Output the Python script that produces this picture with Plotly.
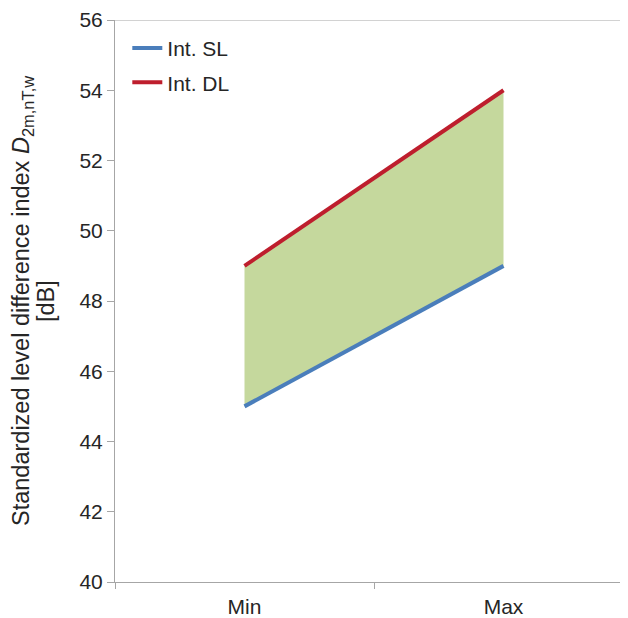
import plotly.graph_objects as go

categories = ["Min", "Max"]
int_sl = [45, 49]
int_dl = [49, 54]
y_ticks = [40, 42, 44, 46, 48, 50, 52, 54, 56]

FONT = "Liberation Sans, Arial, sans-serif"
TXT = "#262626"
AX = "#a6a6a6"

# page body has 8px margin; figure coords = page coords - 8
W, H = 620, 610
L, T, B = 107, 10, 35
PW = W - L

fig = go.Figure()
# fill band
fig.add_trace(go.Scatter(x=categories, y=int_sl, mode="lines", line=dict(width=0, color="rgba(0,0,0,0)"),
                         showlegend=False, hoverinfo="skip"))
fig.add_trace(go.Scatter(x=categories, y=int_dl, mode="lines", line=dict(width=0, color="rgba(0,0,0,0)"),
                         fill="tonexty", fillcolor="#c5d89d", showlegend=False, hoverinfo="skip"))
# lines
fig.add_trace(go.Scatter(x=categories, y=int_sl, mode="lines", name="Int. SL", legendgroup="a",
                         line=dict(color="#4a7ebb", width=4)))
fig.add_trace(go.Scatter(x=categories, y=int_dl, mode="lines", name="Int. DL", legendgroup="b",
                         line=dict(color="#be1e2d", width=4)))

fig.update_layout(
    width=W, height=H,
    margin=dict(l=L, r=0, t=T, b=B),
    paper_bgcolor="white", plot_bgcolor="white",
    font=dict(family=FONT, size=21, color=TXT),
    showlegend=True,
    legend=dict(x=0.024, y=0.986, xanchor="left", yanchor="top", bgcolor="rgba(0,0,0,0)",
                font=dict(size=21, color=TXT), traceorder="grouped", tracegroupgap=4, itemwidth=30),
    xaxis=dict(type="category", range=[-0.5, -0.5 + PW / 259], showgrid=False, zeroline=False,
               showline=True, linecolor=AX, linewidth=1,
               ticks="outside", tickson="boundaries", ticklen=6, tickcolor=AX,
               ticklabelstandoff=6,
               tickfont=dict(size=21, color=TXT)),
    yaxis=dict(range=[40, 56], tickvals=y_ticks, showgrid=False, zeroline=False,
               showline=True, linecolor=AX, linewidth=1,
               ticks="outside", ticklen=7, tickcolor=AX,
               ticklabeloverflow="allow",
               tickfont=dict(size=21, color=TXT)),
    shapes=[dict(type="line", xref="paper", yref="y", x0=0, x1=1, y0=56, y1=56,
                 line=dict(color=AX, width=1))],
    annotations=[
        dict(text="Standardized level difference index <i>D</i><sub>2m,nT,w</sub>",
             xref="paper", yref="paper", x=(22 - 8 - L) / PW, y=0.5,
             xanchor="center", yanchor="middle", textangle=-90, showarrow=False,
             font=dict(size=23.5, color=TXT, family=FONT)),
        dict(text="[dB]",
             xref="paper", yref="paper", x=(46 - 8 - L) / PW, y=0.5,
             xanchor="center", yanchor="middle", textangle=-90, showarrow=False,
             font=dict(size=23.5, color=TXT, family=FONT)),
    ],
)

fig.write_html("out.html")
